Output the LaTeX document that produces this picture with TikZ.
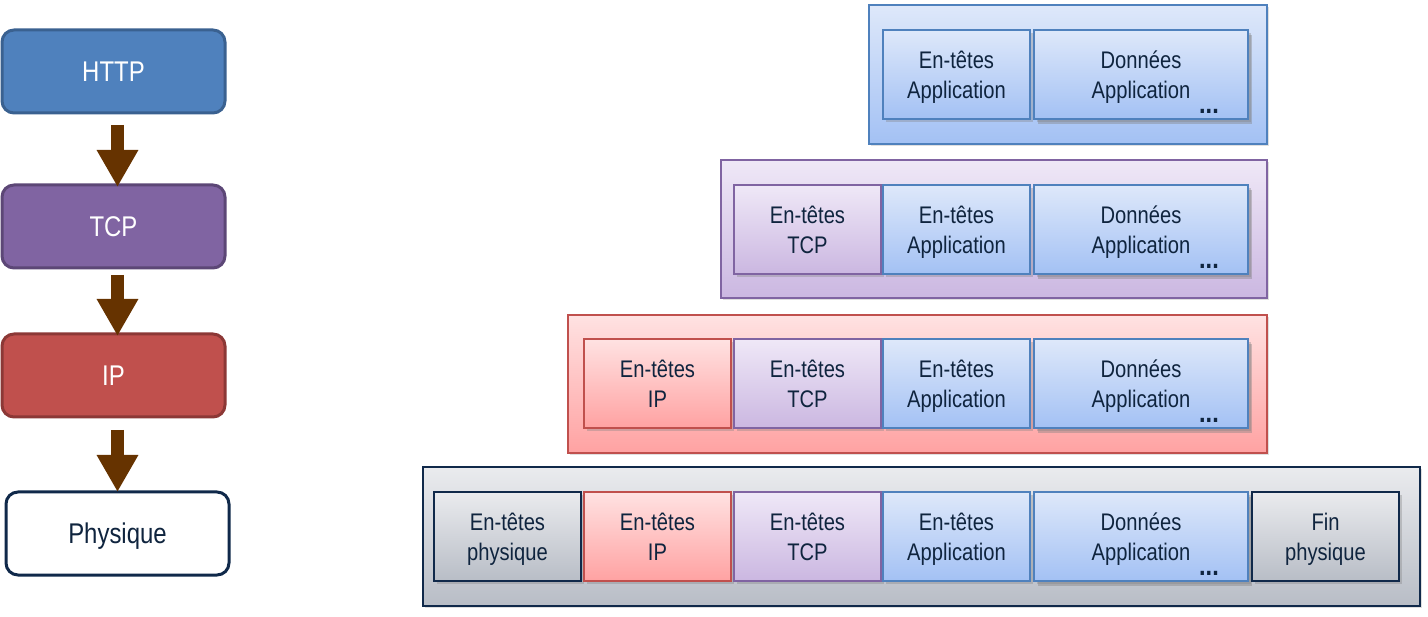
\documentclass[tikz,border=0pt]{standalone}
\usepackage{fontspec}
\setmainfont{Liberation Sans}[FakeStretch=0.84]
\usetikzlibrary{arrows.meta,shadows,calc}
\definecolor{txt}{HTML}{0F243E}
\definecolor{navy}{HTML}{10294A}
\definecolor{arrowbrown}{HTML}{663300}
\definecolor{bluefill}{HTML}{4F81BD}\definecolor{bluedraw}{HTML}{3A6190}
\definecolor{purplefill}{HTML}{8064A2}\definecolor{purpledraw}{HTML}{5C4776}
\definecolor{redfill}{HTML}{C0504D}\definecolor{reddraw}{HTML}{8C3836}
\definecolor{bluetop}{HTML}{DEE8FA}\definecolor{bluebot}{HTML}{A3C1F4}
\definecolor{purpletop}{HTML}{EFE8F7}\definecolor{purplebot}{HTML}{CBB7E1}
\definecolor{redtop}{HTML}{FFE2E2}\definecolor{redbot}{HTML}{FFA2A2}
\definecolor{graytop}{HTML}{EAEBEE}\definecolor{graybot}{HTML}{B8BDC6}
\tikzset{
  x=1pt, y=-1pt,
  layer/.style={rounded corners=12pt, line width=3pt, minimum width=223pt, minimum height=83pt,
    inner sep=0pt, outer sep=0pt, text depth=0pt, font=\fontsize{28.5}{30}\selectfont},
  pkt/.style={anchor=north west, inner sep=0pt, outer sep=0pt, line width=2pt, align=center,
    text=txt, font=\fontsize{24}{30}\selectfont, text depth=0pt,
    drop shadow={shadow xshift=2.5pt, shadow yshift=-3pt, opacity=0.35}},
  frame/.style={anchor=north west, inner sep=0pt, outer sep=0pt, line width=2pt,
    drop shadow={shadow xshift=2pt, shadow yshift=-2pt, opacity=0.25}},
  blueg/.style={top color=bluetop, bottom color=bluebot, draw=bluefill},
  purpleg/.style={top color=purpletop, bottom color=purplebot, draw=purplefill},
  redg/.style={top color=redtop, bottom color=redbot, draw=redfill},
  grayg/.style={top color=graytop, bottom color=graybot, draw=navy},
  hdr/.style={pkt, minimum width=147pt, minimum height=89pt},
  datab/.style={pkt, blueg, minimum width=214pt, minimum height=89pt,
    drop shadow={shadow xshift=4pt, shadow yshift=-5pt, opacity=0.4}},
  dots/.style={inner sep=0pt, text=txt, font=\fontsize{28}{28}\bfseries\selectfont},
  downarrow/.style={draw=arrowbrown, line width=13pt, -{Triangle[width=39pt,length=37pt]}}
}
\begin{document}
\begin{tikzpicture}
\useasboundingbox (0,0) rectangle (1428,617);

% left stack
\node[layer, fill=bluefill, draw=bluedraw, text=white] (http) at (113.5,71.5) {HTTP};
\node[layer, fill=purplefill, draw=purpledraw, text=white] (tcp) at (113.5,226.5) {TCP};
\node[layer, fill=redfill, draw=reddraw, text=white] (ip) at (113.5,375.5) {IP};
\node[layer, fill=white, draw=navy, text=txt] (phy) at (117.5,533.5) {Physique};

\draw[downarrow] ($(http.south)+(4,12)$) -- ($(tcp.north)+(4,2)$);
\draw[downarrow] ($(tcp.south)+(4,7)$) -- ($(ip.north)+(4,2)$);
\draw[downarrow] ($(ip.south)+(4,13)$) -- (phy.north);

% frame 1
\node[frame, blueg, minimum width=398pt, minimum height=139pt] (f1) at (869,5) {};
\node[hdr, blueg] (a1) at (883,30) {En-têtes\\Application};
\node[datab] (d1) at (1034,30) {Données\\Application};
\node[dots] (e1) at (1209,111) {...};

% frame 2
\node[frame, purpleg, minimum width=546pt, minimum height=138pt] (f2) at (721,160) {};
\node[hdr, purpleg] (t2) at (734,185) {En-têtes\\TCP};
\node[hdr, blueg] (a2) at (883,185) {En-têtes\\Application};
\node[datab] (d2) at (1034,185) {Données\\Application};
\node[dots] (e2) at (1209,266) {...};

% frame 3
\node[frame, redg, minimum width=699pt, minimum height=138pt] (f3) at (568,315) {};
\node[hdr, redg] (i3) at (584,339) {En-têtes\\IP};
\node[hdr, purpleg] (t3) at (734,339) {En-têtes\\TCP};
\node[hdr, blueg] (a3) at (883,339) {En-têtes\\Application};
\node[datab] (d3) at (1034,339) {Données\\Application};
\node[dots] (e3) at (1209,420) {...};

% frame 4
\node[frame, grayg, minimum width=997pt, minimum height=139pt] (f4) at (423,467) {};
\node[hdr, grayg] (p4) at (434,492) {En-têtes\\physique};
\node[hdr, redg] (i4) at (584,492) {En-têtes\\IP};
\node[hdr, purpleg] (t4) at (734,492) {En-têtes\\TCP};
\node[hdr, blueg] (a4) at (883,492) {En-têtes\\Application};
\node[datab] (d4) at (1034,492) {Données\\Application};
\node[dots] (e4) at (1209,573) {...};
\node[hdr, grayg] (z4) at (1252,492) {Fin\\physique};
\end{tikzpicture}
\end{document}
